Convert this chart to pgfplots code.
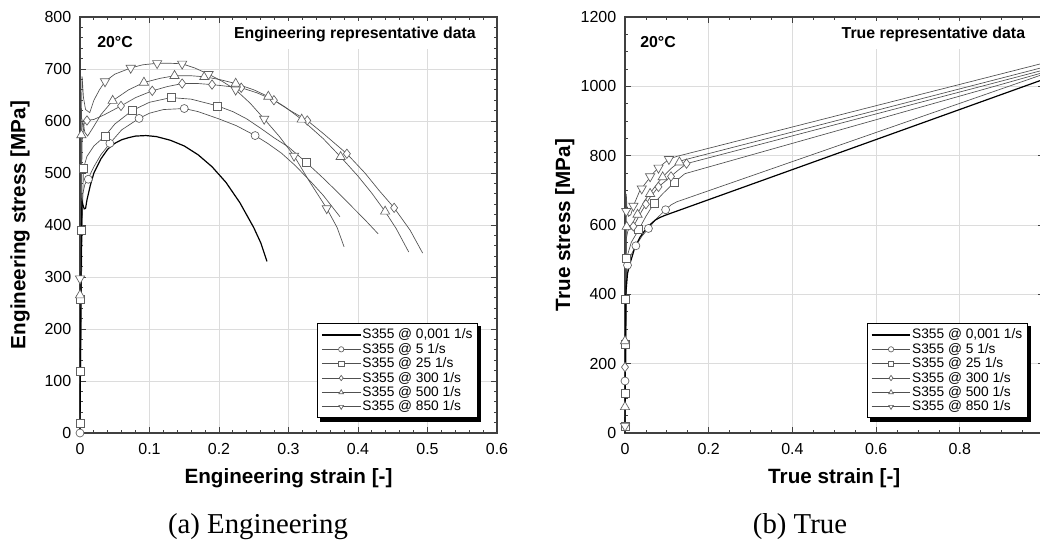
\documentclass[border=0pt]{standalone}
\usepackage{pgfplots}
\pgfplotsset{compat=1.18}
\usepackage{fontspec}
\setmainfont{Liberation Sans}
\newfontfamily\capfont{Liberation Serif}

\definecolor{ln}{HTML}{505050}
\definecolor{mk}{HTML}{606060}
\definecolor{gridc}{HTML}{DCDCDC}
\definecolor{axc}{HTML}{404040}

\pgfplotsset{
 common/.style={
  scale only axis,
  height=312pt,
  clip=false,
  axis line style={axc, line width=0.9pt},
  tick align=inside,
  major tick length=4.5pt,
  minor tick length=2.5pt,
  every tick/.style={axc, line width=0.6pt},
  grid=major,
  major grid style={gridc, line width=0.7pt},
  /pgf/number format/assume math mode=true,
  /pgf/number format/1000 sep={},
  tick label style={font=\fontsize{12}{14}\selectfont},
  yticklabel style={xshift=-3pt},
  xticklabel style={yshift=-4pt, /pgf/number format/fixed},
  label style={font=\fontsize{15.5}{18}\selectfont\bfseries},
  xlabel style={at={(axis description cs:0.5,-0.108)}, anchor=center},
  ylabel style={at={(axis description cs:-0.144,0.5)}, anchor=center},
  legend cell align=left,
  legend image code/.code={\draw[mark repeat=2,mark phase=2,##1] plot coordinates {(0pt,0pt) (14.5pt,0pt) (29pt,0pt)};},
  legend style={anchor=south east, draw=black, line width=0.8pt, fill=white,
    font=\fontsize{10.3}{11}\selectfont, nodes={inner sep=0.9pt},
    inner xsep=3pt, inner ysep=3pt},
 },
 blk/.style={black, line width=0.9pt, no marks},
 gl/.style={ln, line width=0.5pt, no marks},
 mrk/.style={only marks, mark options={fill=white, draw=mk, line width=0.5pt}, mark size=3pt},
 mrkd/.style={only marks, mark=triangle*, mark size=4pt, mark options={fill=white, draw=mk, line width=0.5pt, rotate=180}},
 lgc/.style={ln, line width=0.5pt, mark=#1, mark options={fill=white, draw=mk, line width=0.5pt, mark size=2pt}},
}

\begin{document}
\begin{tikzpicture}
% ================= (a) Engineering =================
\begin{axis}[common,
  at={(60pt,82.5pt)}, anchor=south west, width=312.75pt,
  xmin=0, xmax=0.6, ymin=0, ymax=800,
  xtick={0,0.1,0.2,0.3,0.4,0.5,0.6}, ytick={0,100,...,800},
  minor x tick num=4, minor y tick num=4,
  xlabel={Engineering strain [-]}, ylabel={Engineering stress [MPa]},
  legend style={at={(axis description cs:0.955,0.035)}, name=legA},
]
\addlegendimage{black, line width=0.9pt}
\addlegendentry{S355 @ 0,001 1/s}
\addlegendimage{lgc=*}
\addlegendentry{S355 @ 5 1/s}
\addlegendimage{lgc=square*}
\addlegendentry{S355 @ 25 1/s}
\addlegendimage{lgc=diamond*}
\addlegendentry{S355 @ 300 1/s}
\addlegendimage{lgc=triangle*}
\addlegendentry{S355 @ 500 1/s}
\addlegendimage{ln, line width=0.5pt, mark=triangle*, mark options={fill=white, draw=mk, line width=0.5pt, mark size=2pt, rotate=180}}
\addlegendentry{S355 @ 850 1/s}

% lines
\addplot[gl, forget plot] coordinates {(0,0)(0.001,200)(0.002,380)(0.004,460)(0.007,478)(0.012,490)(0.02,512)(0.03,535)(0.043,557)(0.06,583)(0.085,605)(0.10,615)(0.12,622)(0.15,624)(0.17,618)(0.20,604)(0.225,591)(0.252,572)(0.27,557)(0.29,538)(0.31,514)(0.333,482)(0.35,457)(0.374,416)};
\addplot[gl, forget plot] coordinates {(0,0)(0.0005,18)(0.001,118)(0.002,258)(0.003,390)(0.005,509)(0.01,532)(0.02,552)(0.036,571)(0.05,594)(0.075,620)(0.10,636)(0.131,645)(0.16,642)(0.198,629)(0.22,618)(0.24,604)(0.26,586)(0.28,567)(0.30,550)(0.325,521)(0.35,490)(0.37,464)(0.39,437)(0.41,410)(0.429,383)};
\addplot[gl, forget plot] coordinates {(0,0)(0.001,190)(0.002,420)(0.003,560)(0.006,595)(0.010,601)(0.02,603)(0.035,612)(0.059,629)(0.08,645)(0.104,658)(0.125,666)(0.147,672)(0.17,672)(0.19,670)(0.21,667)(0.232,664)(0.255,654)(0.279,640)(0.30,622)(0.327,601)(0.35,576)(0.384,537)(0.41,500)(0.43,467)(0.452,433)(0.475,390)(0.493,346)};
\addplot[gl, forget plot] coordinates {(0,0)(0.001,265)(0.002,573)(0.004,600)(0.007,578)(0.011,571)(0.02,590)(0.03,612)(0.047,639)(0.07,660)(0.092,674)(0.115,682)(0.136,687)(0.16,687)(0.179,685)(0.20,680)(0.224,672)(0.25,660)(0.271,647)(0.295,627)(0.319,603)(0.35,566)(0.375,531)(0.40,494)(0.42,461)(0.439,426)(0.455,393)(0.473,348)};
\addplot[gl, forget plot] coordinates {(0,0)(0.001,297)(0.002,600)(0.003,686)(0.005,645)(0.008,622)(0.014,616)(0.02,640)(0.028,660)(0.036,676)(0.05,690)(0.073,702)(0.09,708)(0.111,711)(0.13,711)(0.147,710)(0.165,702)(0.185,690)(0.205,676)(0.224,660)(0.245,634)(0.265,604)(0.287,570)(0.308,533)(0.33,484)(0.355,432)(0.37,395)(0.38,358)};
\addplot[blk, forget plot] coordinates {(0,0)(0.0008,150)(0.0015,300)(0.0025,430)(0.003,445)(0.004,440)(0.006,431)(0.008,432)(0.010,448)(0.015,477)(0.02,500)(0.03,527)(0.04,546)(0.05,557)(0.06,564)(0.07,568)(0.08,571)(0.095,572)(0.11,570)(0.13,563)(0.15,552)(0.17,535)(0.19,512)(0.21,482)(0.23,443)(0.25,395)(0.26,366)(0.269,330)};
% marks
\addplot[mrk, mark=*, forget plot] coordinates {(0,0)(0.012,488)(0.043,557)(0.085,605)(0.150,624)(0.252,572)};
\addplot[mrk, mark=square*, forget plot] coordinates {(0,18)(0,118)(0,258)(0.002,390)(0.005,509)(0.036,571)(0.075,620)(0.131,645)(0.198,629)(0.325,521)};
\addplot[mrk, mark=diamond*, mark size=3.5pt, forget plot] coordinates {(0.010,601)(0.059,629)(0.104,658)(0.147,672)(0.190,670)(0.232,664)(0.279,640)(0.327,601)(0.384,537)(0.452,433)};
\addplot[mrk, mark=triangle*, mark size=4pt, forget plot] coordinates {(0,265)(0.002,573)(0.047,639)(0.092,674)(0.136,687)(0.179,685)(0.224,672)(0.271,647)(0.319,603)(0.375,531)(0.439,426)};
\addplot[mrkd, forget plot] coordinates {(0,297)(0.036,676)(0.073,702)(0.111,711)(0.147,710)(0.185,690)(0.224,660)(0.265,604)(0.308,533)(0.355,432)};

\node[anchor=center, fill=white, inner sep=3pt, font=\fontsize{11.9}{13}\selectfont\bfseries] at (axis description cs:0.084,0.94) {20°C};
\node[anchor=east, fill=white, inner xsep=2pt, inner ysep=5pt, font=\fontsize{11.9}{13}\selectfont\bfseries] at (axis description cs:0.956,0.957) {Engineering representative data};
\end{axis}
\fill[black] ([yshift=-2.3pt]legA.south east) rectangle ([xshift=2.3pt,yshift=-2.3pt]legA.north east);
\fill[black] ([xshift=2.3pt,yshift=-2.3pt]legA.south west) rectangle ([xshift=2.3pt]legA.south east);

% ================= (b) True =================
\begin{axis}[common,
  at={(468.75pt,82.5pt)}, anchor=south west, width=313.9pt,
  xmin=0, xmax=1, ymin=0, ymax=1200,
  xtick={0,0.2,0.4,0.6,0.8,1}, ytick={0,200,...,1200},
  minor x tick num=3, minor y tick num=3,
  xlabel={True strain [-]}, ylabel={True stress [MPa]},
  legend style={at={(axis description cs:0.963,0.035)}, name=legB},
]
\addlegendimage{black, line width=0.9pt}
\addlegendentry{S355 @ 0,001 1/s}
\addlegendimage{lgc=*}
\addlegendentry{S355 @ 5 1/s}
\addlegendimage{lgc=square*}
\addlegendentry{S355 @ 25 1/s}
\addlegendimage{lgc=diamond*}
\addlegendentry{S355 @ 300 1/s}
\addlegendimage{lgc=triangle*}
\addlegendentry{S355 @ 500 1/s}
\addlegendimage{ln, line width=0.5pt, mark=triangle*, mark options={fill=white, draw=mk, line width=0.5pt, mark size=2pt, rotate=180}}
\addlegendentry{S355 @ 850 1/s}

\addplot[gl, forget plot] coordinates {(0,0)(0.001,150)(0.002,300)(0.003,420)(0.006,484)(0.015,515)(0.026,540)(0.04,567)(0.056,590)(0.075,618)(0.097,644)(0.11,658)(0.124,667)(1.0,1035)};
\addplot[gl, forget plot] coordinates {(0,0)(0.0005,20)(0.001,115)(0.002,255)(0.003,385)(0.004,505)(0.015,550)(0.033,587)(0.05,625)(0.069,662)(0.09,690)(0.119,724)(0.143,748)(1.0,1040)};
\addplot[gl, forget plot] coordinates {(0,0)(0.001,190)(0.002,400)(0.003,560)(0.008,590)(0.02,596)(0.04,640)(0.06,680)(0.08,710)(0.10,730)(0.124,755)(0.147,777)(1.0,1047)};
\addplot[gl, forget plot] coordinates {(0,0)(0.001,75)(0.002,270)(0.003,590)(0.005,600)(0.009,585)(0.02,610)(0.046,669)(0.07,708)(0.088,736)(0.11,763)(0.128,780)(0.139,787)(1.0,1055)};
\addplot[gl, forget plot] coordinates {(0,0)(0.001,25)(0.002,300)(0.003,690)(0.005,645)(0.008,625)(0.014,630)(0.02,655)(0.035,698)(0.05,722)(0.07,753)(0.09,775)(0.105,790)(0.124,798)(1.0,1067)};
\addplot[blk, forget plot] coordinates {(0,0)(0.001,200)(0.002,400)(0.003,440)(0.004,431)(0.006,460)(0.012,489)(0.024,537)(0.036,565)(0.048,585)(0.06,601)(0.072,614)(0.084,622)(0.096,628)(1.0,1020)};

\addplot[mrk, mark=*, forget plot] coordinates {(0,150)(0.006,484)(0.026,540)(0.056,590)(0.097,644)};
\addplot[mrk, mark=square*, forget plot] coordinates {(0,20)(0,115)(0,255)(0,385)(0.004,505)(0.033,587)(0.069,662)(0.119,724)};
\addplot[mrk, mark=diamond*, mark size=3.5pt, forget plot] coordinates {(0,190)(0.02,596)(0.05,660)(0.08,710)(0.11,740)(0.147,777)};
\addplot[mrk, mark=triangle*, mark size=4pt, forget plot] coordinates {(0,75)(0,265)(0.004,595)(0.03,630)(0.06,690)(0.09,738)(0.13,781)};
\addplot[mrkd, forget plot] coordinates {(0,20)(0.003,640)(0.02,655)(0.04,705)(0.06,740)(0.08,765)(0.105,790)};

\node[anchor=center, fill=white, inner sep=3pt, font=\fontsize{11.9}{13}\selectfont\bfseries] at (axis description cs:0.079,0.94) {20°C};
\node[anchor=east, fill=white, inner xsep=2pt, inner ysep=5pt, font=\fontsize{11.9}{13}\selectfont\bfseries] at (axis description cs:0.963,0.957) {True representative data};
\end{axis}
\fill[black] ([yshift=-2.3pt]legB.south east) rectangle ([xshift=2.3pt,yshift=-2.3pt]legB.north east);
\fill[black] ([xshift=2.3pt,yshift=-2.3pt]legB.south west) rectangle ([xshift=2.3pt]legB.south east);

\node[font=\capfont\fontsize{21.6}{24}\selectfont] at (193.5pt,12pt) {(a) Engineering};
\node[font=\capfont\fontsize{21.6}{24}\selectfont] at (600pt,12pt) {(b) True};

\pgfresetboundingbox
\useasboundingbox (0pt,0pt) rectangle (780pt,407.25pt);
\end{tikzpicture}
\end{document}
